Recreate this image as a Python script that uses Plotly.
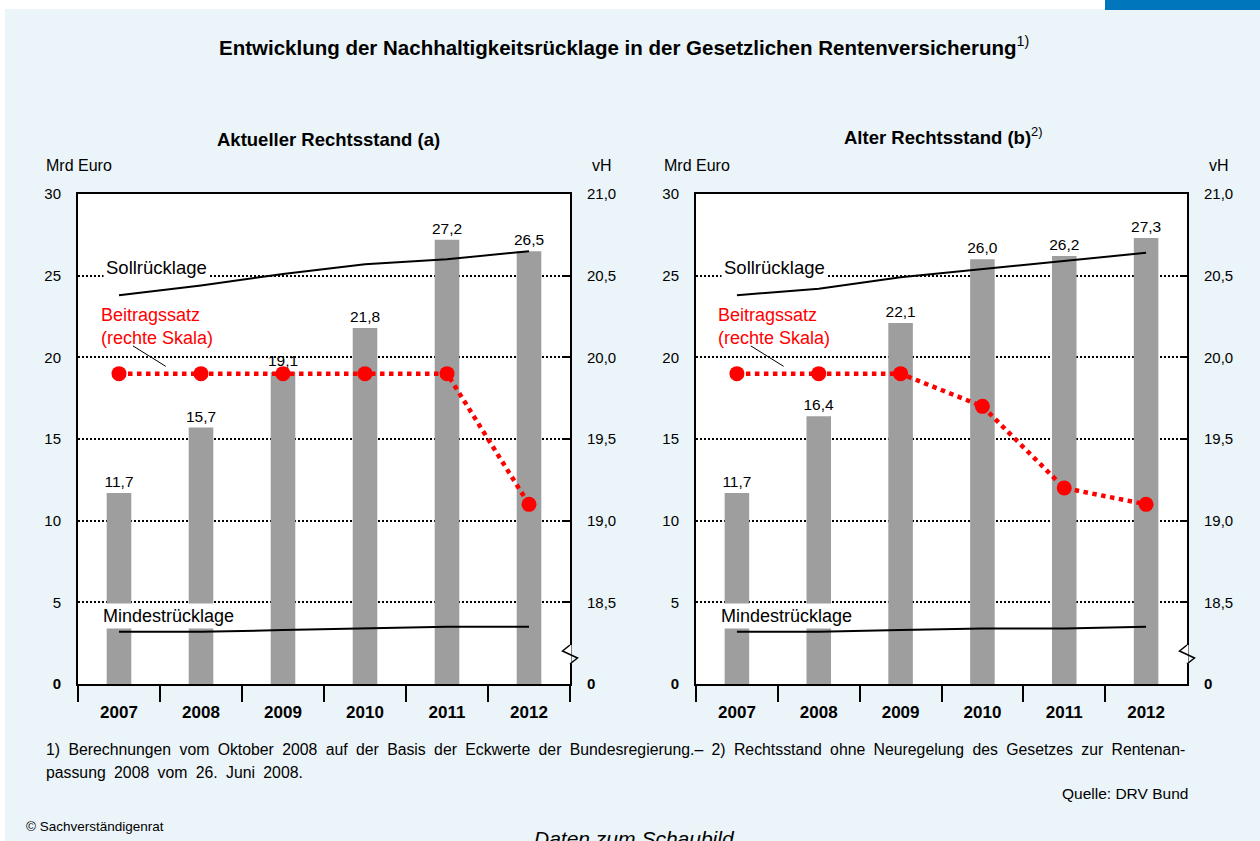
import plotly.graph_objects as go

# ---------------- data ----------------
years = ["2007", "2008", "2009", "2010", "2011", "2012"]

# Panel (a): Aktueller Rechtsstand
reserve_a = [11.7, 15.7, 19.1, 21.8, 27.2, 26.5]          # Nachhaltigkeitsrücklage, Mrd Euro
soll_a = [23.8, 24.4, 25.1, 25.7, 26.0, 26.5]              # Sollrücklage, Mrd Euro
mindest_a = [3.2, 3.2, 3.3, 3.4, 3.5, 3.5]                 # Mindestrücklage, Mrd Euro
beitrag_a = [19.9, 19.9, 19.9, 19.9, 19.9, 19.1]           # Beitragssatz, vH

# Panel (b): Alter Rechtsstand
reserve_b = [11.7, 16.4, 22.1, 26.0, 26.2, 27.3]
soll_b = [23.8, 24.2, 24.9, 25.4, 25.9, 26.4]
mindest_b = [3.2, 3.2, 3.3, 3.4, 3.4, 3.5]
beitrag_b = [19.9, 19.9, 19.9, 19.7, 19.2, 19.1]

left_ticks = [0, 5, 10, 15, 20, 25, 30]
left_ticktext = ["<b>0</b>", "5", "10", "15", "20", "25", "30"]
right_ticks = [18.0, 18.5, 19.0, 19.5, 20.0, 20.5, 21.0]
right_ticktext = ["<b>0</b>", "18,5", "19,0", "19,5", "20,0", "20,5", "21,0"]

# ---------------- style ----------------
FONT = "Liberation Sans, Arial, Helvetica, sans-serif"
W, H = 1260, 841
BG = "#ebf4f8"
BAR = "#9e9e9e"
RED = "#ff0000"

fig = go.Figure()

panels = [
    ("x", "y", "y3", reserve_a, soll_a, mindest_a, beitrag_a),
    ("x2", "y2", "y4", reserve_b, soll_b, mindest_b, beitrag_b),
]

for xa, ya, yr, res, soll, mind, beit in panels:
    fig.add_trace(go.Bar(
        x=years, y=res, xaxis=xa, yaxis=ya, width=0.3,
        marker=dict(color=BAR, line=dict(width=0)),
        texttemplate="%{y:.1f}", textposition="outside", constraintext="none",
        textfont=dict(size=15.5, color="black", family=FONT),
        cliponaxis=False, showlegend=False, hoverinfo="skip"))
    fig.add_trace(go.Scatter(
        x=years, y=soll, xaxis=xa, yaxis=ya, mode="lines",
        line=dict(color="black", width=2), showlegend=False))
    fig.add_trace(go.Scatter(
        x=years, y=mind, xaxis=xa, yaxis=ya, mode="lines",
        line=dict(color="black", width=2), showlegend=False))
    fig.add_trace(go.Scatter(
        x=years, y=beit, xaxis=xa, yaxis=yr, mode="lines+markers",
        line=dict(color=RED, width=4.5, dash="4.5px,4.5px"),
        marker=dict(color=RED, size=15), showlegend=False, cliponaxis=False))

ybot, ytop = 684, 194
ydom = [1 - ybot / H, 1 - ytop / H]
xpix = [(78, 570), (696, 1187)]
xdoms = [[a / W, b / W] for a, b in xpix]

axis_common = dict(showline=True, linecolor="black", linewidth=2,
                   tickfont=dict(size=15, color="black", family=FONT))

for i, (xa, ya, yr) in enumerate([("x", "y", "y3"), ("x2", "y2", "y4")]):
    sfx = "" if i == 0 else "2"
    fig.update_layout(**{
        f"xaxis{sfx}": dict(
            domain=xdoms[i], anchor=ya, type="category", mirror=True,
            ticks="outside", tickson="boundaries", ticklen=16, tickwidth=1.5,
            tickcolor="black", showgrid=False, range=[-0.5, 5.5],
            ticklabelstandoff=12,
            **{**axis_common, "tickfont": dict(size=17, color="black", family=FONT, weight="bold")}),
        f"yaxis{sfx}": dict(
            domain=ydom, anchor=xa, range=[0, 30], tickvals=left_ticks,
            ticktext=left_ticktext, showgrid=True, gridcolor="black",
            gridwidth=1.5, griddash="2px,2px", zeroline=False, ticks="",
            ticklabelstandoff=12, **axis_common),
    })
    rsfx = "3" if i == 0 else "4"
    fig.update_layout(**{
        f"yaxis{rsfx}": dict(
            overlaying=ya, anchor=xa, side="right", range=[18.0, 21.0],
            tickvals=right_ticks, ticktext=right_ticktext, showgrid=False,
            zeroline=False, ticks="inside", ticklen=7, tickwidth=1.5,
            tickcolor="black", ticklabelstandoff=12, **axis_common),
    })

shapes = [
    dict(type="rect", xref="paper", yref="paper", x0=0, x1=1, y0=1 - 9 / H, y1=1,
         fillcolor="white", line=dict(width=0), layer="below"),
    dict(type="rect", xref="paper", yref="paper", x0=0, x1=5 / W, y0=0, y1=1,
         fillcolor="white", line=dict(width=0), layer="below"),
    dict(type="rect", xref="paper", yref="paper", x0=1105 / W, x1=1, y0=1 - 10 / H, y1=1,
         fillcolor="#0077bd", line=dict(width=0)),
]

annotations = []
for i, (xa, ya) in enumerate([("x", "y"), ("x2", "y2")]):
    # axis break on right scale (paper coordinates)
    xr = xpix[i][1]
    def P(px, py):
        return f"{px / W:.5f} {1 - py / H:.5f}"
    shapes.append(dict(type="line", xref="paper", yref="paper",
                       x0=xr / W, x1=xr / W, y0=1 - 645 / H, y1=1 - 664 / H,
                       line=dict(color="white", width=3)))
    shapes.append(dict(type="path", xref="paper", yref="paper",
                       path=f"M {P(xr, 645)} L {P(xr - 7.5, 651)} L {P(xr + 7.5, 658)} L {P(xr, 664)}",
                       line=dict(color="black", width=1.5)))
    # leader line for Beitragssatz label
    shapes.append(dict(type="line", xref=xa, yref=ya, x0=0.17, y0=20.7, x1=0.57, y1=19.45,
                       line=dict(color="black", width=1)))
    annotations += [
        dict(text="Sollrücklage", xref=xa, yref=ya, x=-0.2, y=25.5, xanchor="left",
             yanchor="middle", showarrow=False, bgcolor="white", borderpad=2,
             font=dict(size=18.5, color="black", family=FONT)),
        dict(text="Beitragssatz<br>(rechte Skala)", xref=xa, yref=ya, x=-0.25, y=21.9,
             xanchor="left", yanchor="middle", align="left", showarrow=False,
             font=dict(size=18, color=RED, family=FONT)),
        dict(text="Mindestrücklage", xref=xa, yref=ya, x=-0.23, y=4.15, xanchor="left",
             yanchor="middle", showarrow=False, bgcolor="white", borderpad=2,
             font=dict(size=18, color="black", family=FONT)),
    ]


def pa(text, x, y, size=14, xanchor="left", yanchor="middle", **kw):
    annotations.append(dict(text=text, xref="paper", yref="paper", x=x / W, y=1 - y / H,
                            xanchor=xanchor, yanchor=yanchor, showarrow=False,
                            font=dict(size=size, color="black", family=FONT,
                                      **kw.pop("fontkw", {})), **kw))


pa("<b>Entwicklung der Nachhaltigkeitsrücklage in der Gesetzlichen Rentenversicherung</b><sup>1)</sup>",
   624, 46, size=20.5, xanchor="center")
pa("<b>Aktueller Rechtsstand (a)</b>", 328, 139, size=18.5, xanchor="center")
pa("<b>Alter Rechtsstand (b)</b><sup>2)</sup>", 943, 136, size=18.5, xanchor="center")
pa("Mrd Euro", 44, 165, size=16)
pa("vH", 602, 165, size=16, xanchor="center")
pa("Mrd Euro", 662, 165, size=16)
pa("vH", 1219, 165, size=16, xanchor="center")
line1 = ("1) Berechnungen vom Oktober 2008 auf der Basis der Eckwerte der Bundesregierung.– "
         "2) Rechtsstand ohne Neuregelung des Gesetzes zur Rentenan-")
line2 = "passung 2008 vom 26. Juni 2008."
pa(line1.replace(" ", " \u2005"), 44, 749, size=15.8)
pa(line2.replace(" ", " \u2005"), 44, 772, size=15.8)
pa("Quelle: DRV Bund", 1190, 793, size=15.5, xanchor="right")
pa("© Sachverständigenrat", 24, 826, size=13.5)
pa("Daten zum Schaubild", 634, 825, size=21, xanchor="center", yanchor="top",
   fontkw=dict(style="italic"))

fig.update_layout(
    width=W, height=H, margin=dict(l=0, r=0, t=0, b=0, autoexpand=False),
    paper_bgcolor=BG, plot_bgcolor="white", separators=",.",
    font=dict(family=FONT, color="black"), showlegend=False,
    bargap=0.7, shapes=shapes, annotations=annotations,
)

fig.write_html("out.html", config={"displayModeBar": False},
               post_script="document.body.style.margin='0';document.body.style.overflow='hidden';")
